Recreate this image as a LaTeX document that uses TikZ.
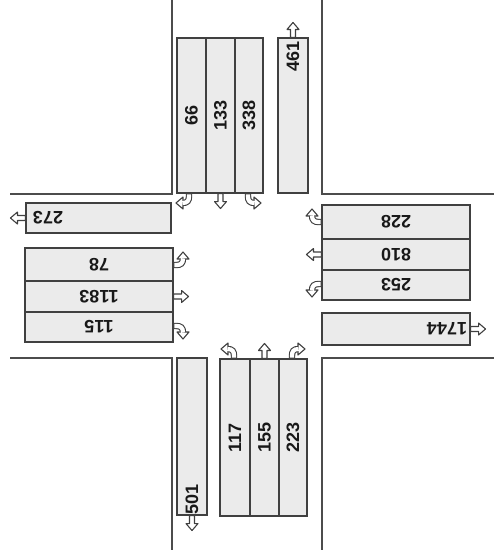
\documentclass[tikz,border=0pt]{standalone}
\usepackage{fontspec}
\setmainfont{Liberation Sans}
\begin{document}
\begin{tikzpicture}[x=1pt,y=-1pt,
  road/.style={draw=black!70, line width=1.3pt},
  lane/.style={draw=black!75, line width=1.1pt, fill=black!8},
  lbl/.style={font=\bfseries\fontsize{18}{20}\selectfont, text=black!90, inner sep=0pt},
  arrowline/.style={draw=black!75, line width=1.1pt, fill=white, line join=round},
  pics/sarrow/.style={code={
    \path[arrowline] (-2.5,0)--(-2.5,-8)--(-6,-8)--(0,-15)--(6,-8)--(2.5,-8)--(2.5,0)--cycle;}},
  pics/tarrow/.style={code={
    \draw[black!75, line width=6.4pt] (0,0) -- (0,-3) .. controls (0,-7) and (1.5,-9.5) .. (6.5,-9.5);
    \path[arrowline] (6,-15.5)--(13,-9.5)--(6,-3.5)--cycle;
    \draw[white, line width=4.2pt] (0,-0.8) -- (0,-3) .. controls (0,-7) and (1.5,-9.5) .. (6.6,-9.5);}}
]
\useasboundingbox (0,0) rectangle (494,550);
% road edges
\draw[road] (172,0) -- (172,194) -- (10,194);
\draw[road] (322,0) -- (322,194) -- (494,194);
\draw[road] (10,358) -- (172,358) -- (172,550);
\draw[road] (494,358) -- (322,358) -- (322,550);

% north approach
\node[lane, minimum width=29pt, minimum height=155pt, inner sep=0pt] (n1) at (191.5,115.5) {};
\node[lane, minimum width=29pt, minimum height=155pt, inner sep=0pt] (n2) at (220.5,115.5) {};
\node[lane, minimum width=28pt, minimum height=155pt, inner sep=0pt] (n3) at (249,115.5) {};
\node[lbl, rotate=90] (n1t) at (n1.center) {66};
\node[lbl, rotate=90] (n2t) at (n2.center) {133};
\node[lbl, rotate=90] (n3t) at (n3.center) {338};
\pic[rotate=180] at (189,193.5) {tarrow};
\pic[rotate=180] at (n2.south) {sarrow};
\pic[rotate=180, xscale=-1] at (248,193.5) {tarrow};
% north exit
\node[lane, minimum width=30pt, minimum height=155pt, inner sep=0pt] (nx) at (293,115.5) {};
\node[lbl, rotate=90] (nxt) at (293,56) {461};
\pic at (nx.north) {sarrow};

% west exit
\node[lane, minimum width=145pt, minimum height=30pt, inner sep=0pt] (wx) at (98.5,218) {};
\node[lbl, rotate=180] (wxt) at (48,218) {273};
\pic[rotate=90] at (wx.west) {sarrow};
% west approach
\node[lane, minimum width=148pt, minimum height=33pt, inner sep=0pt] (w1) at (99,264.5) {};
\node[lane, minimum width=148pt, minimum height=31pt, inner sep=0pt] (w2) at (99,296.5) {};
\node[lane, minimum width=148pt, minimum height=30pt, inner sep=0pt] (w3) at (99,327) {};
\node[lbl, rotate=180] (w1t) at (w1.center) {78};
\node[lbl, rotate=180] (w2t) at (w2.center) {1183};
\node[lbl, rotate=180] (w3t) at (w3.center) {115};
\pic[rotate=-90, xscale=-1] at (173.5,265) {tarrow};
\pic[rotate=-90] at (w2.east) {sarrow};
\pic[rotate=-90] at (173.5,326) {tarrow};

% east approach
\node[lane, minimum width=148pt, minimum height=34pt, inner sep=0pt] (e1) at (396,222) {};
\node[lane, minimum width=148pt, minimum height=31pt, inner sep=0pt] (e2) at (396,254.5) {};
\node[lane, minimum width=148pt, minimum height=30pt, inner sep=0pt] (e3) at (396,285) {};
\node[lbl, rotate=180] (e1t) at (e1.center) {228};
\node[lbl, rotate=180] (e2t) at (e2.center) {810};
\node[lbl, rotate=180] (e3t) at (e3.center) {253};
\pic[rotate=90] at (321.5,222) {tarrow};
\pic[rotate=90] at (e2.west) {sarrow};
\pic[rotate=90, xscale=-1] at (321.5,284) {tarrow};
% east exit
\node[lane, minimum width=148pt, minimum height=32pt, inner sep=0pt] (ex) at (396,329) {};
\node[lbl, rotate=180] (ext) at (447,329) {1744};
\pic[rotate=-90] at (ex.east) {sarrow};

% south exit
\node[lane, minimum width=30pt, minimum height=157pt, inner sep=0pt] (sx) at (192,436.5) {};
\node[lbl, rotate=90] (sxt) at (192,499) {501};
\pic[rotate=180] at (sx.south) {sarrow};
% south approach
\node[lane, minimum width=30pt, minimum height=157pt, inner sep=0pt] (s1) at (235,437.5) {};
\node[lane, minimum width=29pt, minimum height=157pt, inner sep=0pt] (s2) at (264.5,437.5) {};
\node[lane, minimum width=28pt, minimum height=157pt, inner sep=0pt] (s3) at (293,437.5) {};
\node[lbl, rotate=90] (s1t) at (s1.center) {117};
\node[lbl, rotate=90] (s2t) at (s2.center) {155};
\node[lbl, rotate=90] (s3t) at (s3.center) {223};
\pic[xscale=-1] at (234,358.5) {tarrow};
\pic at (s2.north) {sarrow};
\pic at (292,358.5) {tarrow};
\end{tikzpicture}
\end{document}
